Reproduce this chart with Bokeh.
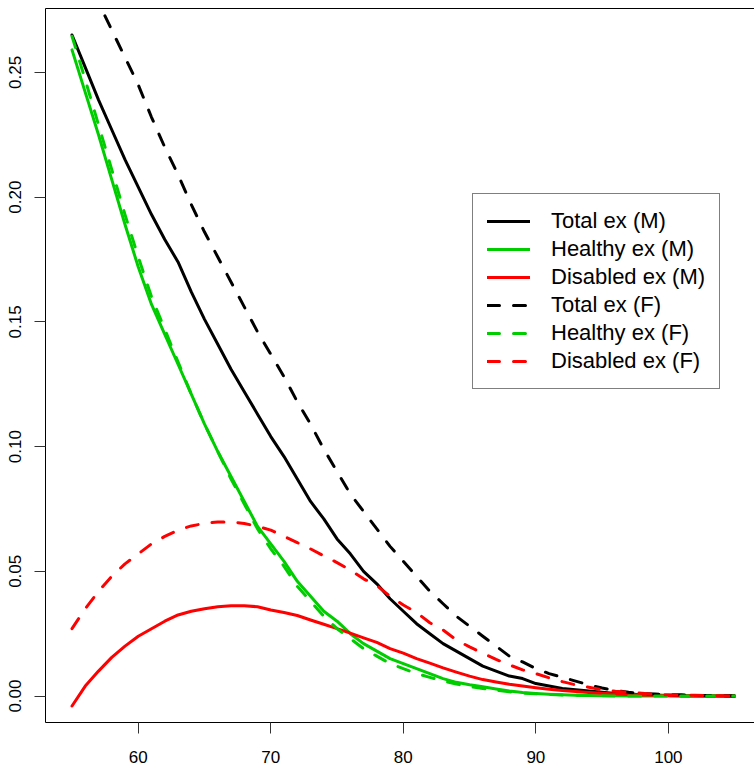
from bokeh.plotting import figure
from bokeh.models import (FixedTicker, NumeralTickFormatter, Legend, LegendItem,
                          LinearAxis, Range1d)
from bokeh.embed import file_html
from bokeh.resources import INLINE

# ---------------- data ----------------
ages = list(range(55, 106))

total_m = [0.265, 0.252, 0.239, 0.227, 0.215, 0.204, 0.193, 0.183, 0.174, 0.162,
           0.151, 0.141, 0.131, 0.122, 0.113, 0.104, 0.096, 0.087, 0.078, 0.071,
           0.063, 0.057, 0.050, 0.045, 0.039, 0.034, 0.029, 0.025, 0.021, 0.018,
           0.015, 0.012, 0.010, 0.008, 0.007, 0.005, 0.004, 0.003, 0.0025, 0.002,
           0.0015, 0.001, 0.0008, 0.0005, 0.0003, 0.0002, 0.0001, 0.0001, 0.0, 0.0, 0.0]

healthy_m = [0.259, 0.242, 0.225, 0.207, 0.189, 0.172, 0.157, 0.145, 0.133, 0.121,
             0.109, 0.098, 0.088, 0.078, 0.068, 0.061, 0.054, 0.046, 0.040, 0.034,
             0.030, 0.025, 0.021, 0.018, 0.015, 0.013, 0.011, 0.009, 0.007, 0.0055,
             0.0045, 0.0037, 0.0028, 0.002, 0.0014, 0.001, 0.0007, 0.0005, 0.0003, 0.0002,
             0.0001, 0.0001, 0.0, 0.0, 0.0, 0.0, 0.0, 0.0, 0.0, 0.0, 0.0]

disabled_m = [-0.004, 0.004, 0.010, 0.0155, 0.020, 0.024, 0.027, 0.030, 0.0325, 0.034,
              0.035, 0.0358, 0.0362, 0.0362, 0.0358, 0.0345, 0.0335, 0.0323, 0.0305, 0.0288,
              0.027, 0.0252, 0.0233, 0.0215, 0.019, 0.0172, 0.015, 0.0132, 0.0113, 0.0096,
              0.008, 0.0066, 0.0056, 0.0047, 0.004, 0.0033, 0.0027, 0.0022, 0.0018, 0.0014,
              0.0011, 0.0008, 0.0006, 0.0004, 0.0003, 0.0002, 0.0001, 0.0, 0.0, 0.0, 0.0]

total_f = [0.301, 0.289, 0.278, 0.267, 0.256, 0.245, 0.232, 0.220, 0.209, 0.197,
           0.186, 0.176, 0.166, 0.156, 0.146, 0.137, 0.128, 0.118, 0.109, 0.099,
           0.090, 0.081, 0.074, 0.067, 0.060, 0.054, 0.048, 0.042, 0.037, 0.032,
           0.028, 0.024, 0.020, 0.016, 0.0137, 0.011, 0.009, 0.0075, 0.006, 0.0045,
           0.0032, 0.0022, 0.0015, 0.001, 0.0008, 0.0006, 0.0005, 0.0003, 0.0002, 0.0001, 0.0]

healthy_f = [0.2645, 0.247, 0.229, 0.211, 0.193, 0.176, 0.160, 0.147, 0.134, 0.121,
             0.109, 0.098, 0.087, 0.077, 0.067, 0.059, 0.052, 0.044, 0.038, 0.032,
             0.027, 0.023, 0.019, 0.016, 0.013, 0.011, 0.009, 0.0075, 0.006, 0.0048,
             0.0038, 0.003, 0.0023, 0.0017, 0.0012, 0.0009, 0.0006, 0.0004, 0.0003, 0.0002,
             0.0001, 0.0, 0.0, 0.0, 0.0, 0.0, 0.0, 0.0, 0.0, 0.0, 0.0]

disabled_f = [0.027, 0.035, 0.042, 0.048, 0.053, 0.057, 0.061, 0.064, 0.0665, 0.0682,
              0.0692, 0.0698, 0.0698, 0.0692, 0.068, 0.0665, 0.064, 0.0615, 0.059, 0.0562,
              0.0535, 0.0505, 0.047, 0.0443, 0.040, 0.0365, 0.0335, 0.0294, 0.0265, 0.0225,
              0.0197, 0.0172, 0.0147, 0.0125, 0.0105, 0.009, 0.0073, 0.0058, 0.0045, 0.0035,
              0.0025, 0.0019, 0.0015, 0.0011, 0.0007, 0.0005, 0.0004, 0.0003, 0.0002, 0.0001, 0.0]

x_ticks = [60, 70, 80, 90, 100]
y_ticks = [0.00, 0.05, 0.10, 0.15, 0.20, 0.25]

labels = ["Total ex (M)", "Healthy ex (M)", "Disabled ex (M)",
          "Total ex (F)", "Healthy ex (F)", "Disabled ex (F)"]

# ---------------- figure ----------------
FONT = "Liberation Sans"
BLACK = "#000000"
GREEN = "#00CD00"
RED = "#FF0000"

p = figure(width=754, height=770, output_backend="svg", toolbar_location=None,
           x_range=Range1d(53.0, 106.5), y_range=Range1d(-0.0106, 0.2756),
           min_border_left=45, min_border_right=0, min_border_top=8,
           min_border_bottom=48)
p.grid.visible = False
p.outline_line_color = None
p.background_fill_color = "white"
p.border_fill_color = "white"

for ax in (p.xaxis[0], p.yaxis[0]):
    ax.axis_line_color = BLACK
    ax.axis_line_width = 1
    ax.major_tick_line_color = "#333333"
    ax.major_tick_line_width = 1
    ax.major_tick_out = 11
    ax.major_tick_in = 0
    ax.minor_tick_line_color = None
    ax.major_label_text_font = FONT
    ax.major_label_text_font_size = "17px"
    ax.major_label_text_color = BLACK

p.xaxis[0].ticker = FixedTicker(ticks=x_ticks)
p.xaxis[0].major_label_standoff = 17
p.yaxis[0].ticker = FixedTicker(ticks=y_ticks)
p.yaxis[0].formatter = NumeralTickFormatter(format="0.00")
p.yaxis[0].major_label_orientation = "vertical"
p.yaxis[0].major_label_standoff = 13

# top side of the box: a bare axis line
top = LinearAxis(ticker=FixedTicker(ticks=[]), axis_line_color=BLACK, axis_line_width=1,
                 major_tick_line_color=None, minor_tick_line_color=None,
                 major_tick_out=0, major_tick_in=0, major_label_standoff=0,
                 major_label_text_font_size="0px")
p.add_layout(top, "above")

series = [(total_m, BLACK, "solid"), (healthy_m, GREEN, "solid"), (disabled_m, RED, "solid"),
          (total_f, BLACK, "12 14"), (healthy_f, GREEN, "12 14"), (disabled_f, RED, "12 14")]

items = []
for (vals, col, dash), lab in zip(series, labels):
    r = p.line(ages, vals, line_color=col, line_width=3, line_dash=dash,
               line_cap="round", line_join="round")
    items.append(LegendItem(label=lab, renderers=[r]))

legend = Legend(items=items, location=(427, 333),
                label_text_font=FONT, label_text_font_size="22px",
                label_text_color=BLACK,
                glyph_width=43, glyph_height=26, label_height=26,
                label_standoff=21, spacing=2, padding=14, margin=0,
                border_line_color=BLACK, border_line_width=1,
                background_fill_color="white", background_fill_alpha=1.0)
p.add_layout(legend, "center")

open("out.html", "w").write(file_html(p, INLINE))
